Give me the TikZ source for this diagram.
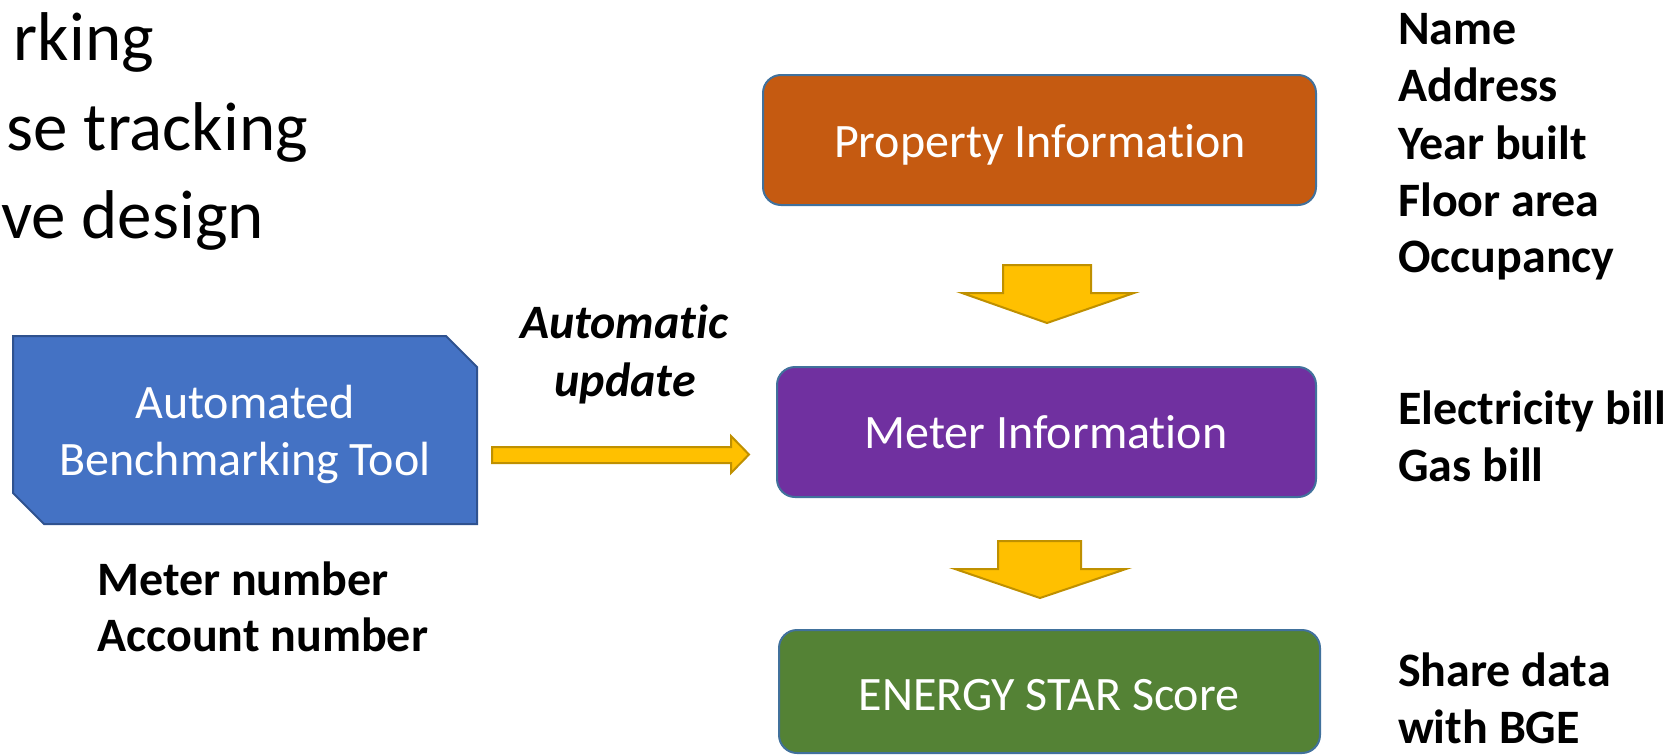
\documentclass[tikz,border=0pt]{standalone}
\usepackage{fontspec}
\setmainfont{Carlito}[Ligatures=NoCommon]
\definecolor{blueFill}{HTML}{4472C4}
\definecolor{blueLine}{HTML}{2F528F}
\definecolor{boxLine}{HTML}{41719C}
\definecolor{orangeFill}{HTML}{C55A11}
\definecolor{purpleFill}{HTML}{7030A0}
\definecolor{greenFill}{HTML}{548235}
\definecolor{arrFill}{HTML}{FFC000}
\definecolor{arrLine}{HTML}{BF9000}
\begin{document}
\begin{tikzpicture}[x=1pt,y=-1pt,
  boxtxt/.style={text=white,font=\fontsize{48}{58}\selectfont,inner sep=0,anchor=base},
  lbl/.style={font=\bfseries\fontsize{48}{58}\selectfont,anchor=base west,inner sep=0},
  itl/.style={font=\bfseries\itshape\fontsize{48}{58}\selectfont,anchor=base,inner sep=0},
  big/.style={font=\fontsize{69}{82}\selectfont,anchor=base east,inner sep=0},
  rbox/.style={draw=boxLine,line width=2pt,rounded corners=18pt},
  yarrow/.style={fill=arrFill,draw=arrLine,line width=2pt,line join=miter}]
\useasboundingbox (0,0) rectangle (1673,755);
% partial bullet text at the left edge
\node[big] (t1) at (154,60) {rking};
\node[big] (t2) at (308,150) {se tracking};
\node[big] (t3) at (264,238) {ve design};
% automated benchmarking tool (snipped corners)
\draw[fill=blueFill,draw=blueLine,line width=2pt]
  (13,336) -- (446,336) -- (477,367) -- (477,524) -- (44,524) -- (13,493) -- cycle;
\node[boxtxt] (abt1) at (245,418) {Automated};
\node[boxtxt] (abt2) at (245,475) {Benchmarking Tool};
\node[lbl] (mn1) at (97,595) {Meter number};
\node[lbl] (mn2) at (97,651) {Account number};
% automatic update arrow
\draw[yarrow] (492,447) -- (731,447) -- (731,436) -- (749,454.5) -- (731,473) -- (731,463) -- (492,463) -- cycle;
\node[itl] (au1) at (624,338) {Automatic};
\node[itl] (au2) at (625,396) {update};
% boxes
\draw[rbox,fill=orangeFill] (763,75) rectangle (1316,205);
\node[boxtxt] (prop) at (1040,157) {Property Information};
\draw[rbox,fill=purpleFill] (777,367) rectangle (1316,497);
\node[boxtxt] (meter) at (1046,448) {Meter Information};
\draw[rbox,fill=greenFill] (779,630) rectangle (1320,753);
\node[boxtxt] (star) at (1049,710) {ENERGY STAR Score};
% down arrows
\draw[yarrow] (1003,265) -- (1091,265) -- (1091,293) -- (1134,293) -- (1047,323) -- (962,293) -- (1003,293) -- cycle;
\draw[yarrow] (998,541) -- (1081,541) -- (1081,569) -- (1126,569) -- (1040,598) -- (955,569) -- (998,569) -- cycle;
% right labels
\node[lbl] (r1) at (1398,44) {Name};
\node[lbl] (r2) at (1398,101) {Address};
\node[lbl] (r3) at (1398,159) {Year built};
\node[lbl] (r4) at (1398,216) {Floor area};
\node[lbl] (r5) at (1398,272) {Occupancy};
\node[lbl] (r6) at (1398,424) {Electricity bill};
\node[lbl] (r7) at (1398,481) {Gas bill};
\node[lbl] (r8) at (1398,686) {Share data};
\node[lbl] (r9) at (1398,743) {with BGE};
\end{tikzpicture}
\end{document}
